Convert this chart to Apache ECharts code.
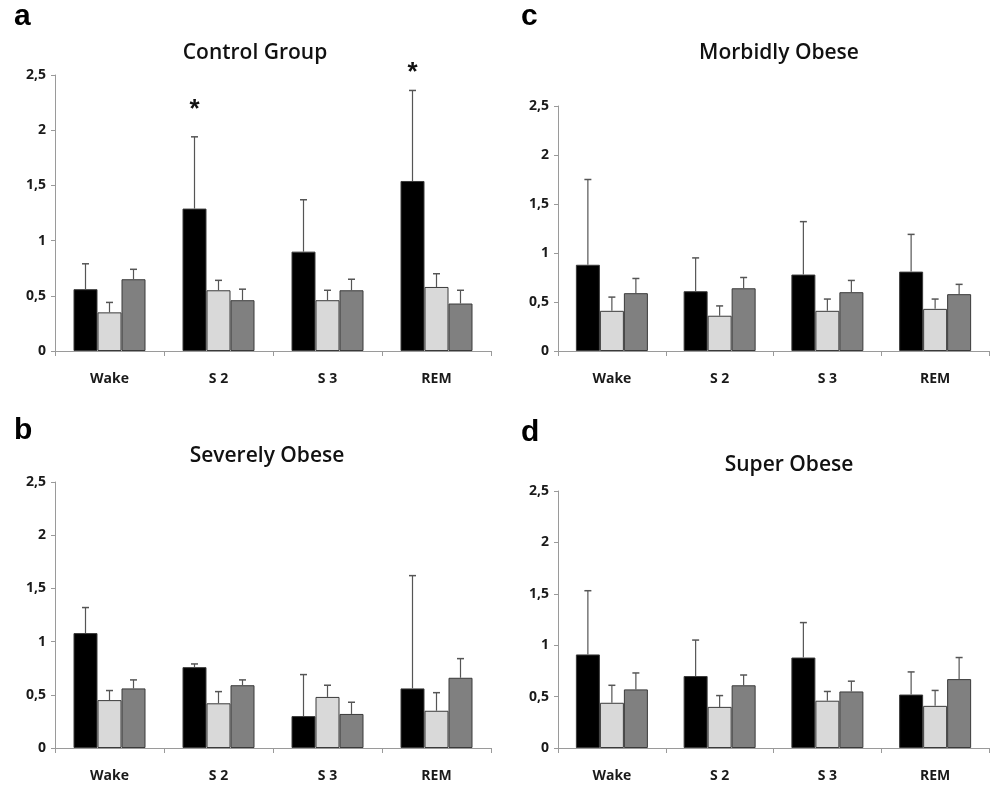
<!DOCTYPE html>
<html>
<head>
<meta charset="utf-8">
<script src="https://cdn.jsdelivr.net/npm/echarts@6/dist/echarts.min.js"></script>
<style>
html,body{margin:0;padding:0;background:#fff;}
#chart{width:994px;height:786px;}
</style>
</head>
<body>
<div id="chart"></div>
<script>
// ---- data ----
const categories = ['Wake', 'S 2', 'S 3', 'REM'];
const yTicks = [0, 0.5, 1, 1.5, 2, 2.5];

const panelTitles = ['Control Group', 'Morbidly Obese', 'Severely Obese', 'Super Obese'];
const panelLetters = ['a', 'c', 'b', 'd'];

// Panel a - Control Group
const aBlack = [0.56, 1.29, 0.90, 1.54];
const aBlackErr = [0.79, 1.94, 1.37, 2.36];
const aLight = [0.35, 0.55, 0.46, 0.58];
const aLightErr = [0.44, 0.64, 0.55, 0.70];
const aDark = [0.65, 0.46, 0.55, 0.43];
const aDarkErr = [0.74, 0.56, 0.65, 0.55];
const aStars = [null, 2.18, null, 2.52];

// Panel c - Morbidly Obese
const cBlack = [0.88, 0.61, 0.78, 0.81];
const cBlackErr = [1.75, 0.95, 1.32, 1.19];
const cLight = [0.41, 0.36, 0.41, 0.43];
const cLightErr = [0.55, 0.46, 0.53, 0.53];
const cDark = [0.59, 0.64, 0.60, 0.58];
const cDarkErr = [0.74, 0.75, 0.72, 0.68];

// Panel b - Severely Obese
const bBlack = [1.08, 0.76, 0.30, 0.56];
const bBlackErr = [1.32, 0.79, 0.69, 1.62];
const bLight = [0.45, 0.42, 0.48, 0.35];
const bLightErr = [0.54, 0.53, 0.59, 0.52];
const bDark = [0.56, 0.59, 0.32, 0.66];
const bDarkErr = [0.64, 0.64, 0.43, 0.84];

// Panel d - Super Obese
const dBlack = [0.91, 0.70, 0.88, 0.52];
const dBlackErr = [1.53, 1.05, 1.22, 0.74];
const dLight = [0.44, 0.40, 0.46, 0.41];
const dLightErr = [0.61, 0.51, 0.55, 0.56];
const dDark = [0.57, 0.61, 0.55, 0.67];
const dDarkErr = [0.73, 0.71, 0.65, 0.88];

// ---- styles ----
const BAR_W = 24;
const fills = ['#000000', '#d9d9d9', '#808080'];
const borderCol = '#3a3a3a';
const axisCol = '#9a9a9a';
const labelFont = '"Open Sans", Lato, sans-serif';

const grids = [
  {left: 55, top: 75, width: 436, height: 276},
  {left: 558, top: 106, width: 431, height: 245},
  {left: 55, top: 482, width: 436, height: 266},
  {left: 558, top: 491, width: 431, height: 257}
];
const titlePos = [
  {x: 255, y: 53}, {x: 779, y: 53}, {x: 267, y: 456}, {x: 789, y: 465}
];
const letterPos = [
  {x: 14, y: 32}, {x: 521, y: 32}, {x: 14, y: 446}, {x: 521, y: 448}
];

const panels = [
  {vals: [aBlack, aLight, aDark], errs: [aBlackErr, aLightErr, aDarkErr], stars: aStars},
  {vals: [cBlack, cLight, cDark], errs: [cBlackErr, cLightErr, cDarkErr], stars: null},
  {vals: [bBlack, bLight, bDark], errs: [bBlackErr, bLightErr, bDarkErr], stars: null},
  {vals: [dBlack, dLight, dDark], errs: [dBlackErr, dLightErr, dDarkErr], stars: null}
];

const xAxes = [], yAxes = [], series = [], graphics = [];

panels.forEach((p, gi) => {
  xAxes.push({
    type: 'category', gridIndex: gi, data: categories,
    axisLine: {lineStyle: {color: axisCol, width: 1}},
    axisTick: {show: true, length: 5, lineStyle: {color: axisCol}},
    axisLabel: {color: '#1a1a1a', fontFamily: labelFont, fontSize: 14, fontWeight: 'bold', margin: 21}
  });
  yAxes.push({
    type: 'value', gridIndex: gi, min: 0, max: 2.5, interval: 0.5,
    splitLine: {show: false},
    axisLine: {show: true, lineStyle: {color: axisCol, width: 1}},
    axisTick: {show: true, length: 4, lineStyle: {color: axisCol}},
    axisLabel: {
      color: '#1a1a1a', fontFamily: labelFont, fontSize: 14, fontWeight: 'bold', margin: 9,
      formatter: v => (yTicks.indexOf(v) >= 0 ? String(v).replace('.', ',') : '')
    }
  });
  p.vals.forEach((arr, si) => {
    series.push({
      type: 'bar', xAxisIndex: gi, yAxisIndex: gi, data: arr,
      barWidth: BAR_W, barGap: '0%', silent: true,
      itemStyle: {color: fills[si], borderColor: borderCol, borderWidth: 1}
    });
  });
  p.errs.forEach((arr, si) => {
    const data = arr.map((e, ci) => [ci, e, p.vals[si][ci]]);
    series.push({
      type: 'custom', xAxisIndex: gi, yAxisIndex: gi, data: data, silent: true, z: 5,
      renderItem: (params, api) => {
        const top = api.coord([api.value(0), api.value(1)]);
        const base = api.coord([api.value(0), api.value(2)]);
        const x = top[0] + (si - 1) * BAR_W;
        return {
          type: 'group', children: [
            {type: 'line', shape: {x1: x, y1: base[1], x2: x, y2: top[1]}, style: {stroke: '#555', lineWidth: 1.2}},
            {type: 'line', shape: {x1: x - 3.5, y1: top[1], x2: x + 3.5, y2: top[1]}, style: {stroke: '#555', lineWidth: 1.5}}
          ]
        };
      }
    });
  });
  if (p.stars) {
    const sdata = p.stars.map((v, ci) => v == null ? null : [ci, v]).filter(d => d);
    series.push({
      type: 'custom', xAxisIndex: gi, yAxisIndex: gi, data: sdata, silent: true, z: 6,
      renderItem: (params, api) => {
        const pt = api.coord([api.value(0), api.value(1)]);
        return {
          type: 'text', x: pt[0] - BAR_W, y: pt[1],
          style: {text: '*', font: 'bold 26px "Liberation Sans", Arial, sans-serif', fill: '#111', textAlign: 'center', textVerticalAlign: 'middle'}
        };
      }
    });
  }
  graphics.push({
    type: 'text', x: titlePos[gi].x, y: titlePos[gi].y,
    style: {text: panelTitles[gi], font: '600 21px "Open Sans", Lato, sans-serif', fill: '#111', textAlign: 'center', textVerticalAlign: 'middle'}
  });
});

panelLetters.forEach((l, i) => {
  graphics.push({
    type: 'text', x: letterPos[i].x, y: letterPos[i].y,
    style: {text: l, font: 'bold 30px "Liberation Sans", Arial, sans-serif', fill: '#000', textAlign: 'left', textVerticalAlign: 'bottom'}
  });
});

const chart = echarts.init(document.getElementById('chart'), null, {renderer: 'canvas'});
chart.setOption({
  animation: false,
  backgroundColor: '#fff',
  grid: grids,
  xAxis: xAxes,
  yAxis: yAxes,
  series: series,
  graphic: graphics
});
</script>
</body>
</html>
